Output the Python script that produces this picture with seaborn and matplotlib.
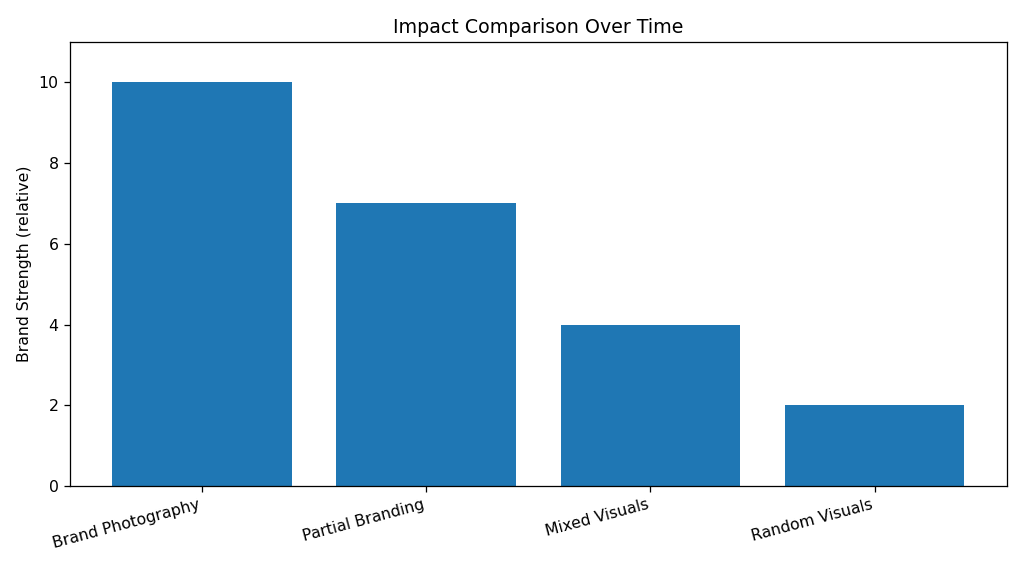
import matplotlib
matplotlib.use('Agg')
import matplotlib.pyplot as plt
import seaborn as sns
import pandas as pd

categories = ['Brand Photography', 'Partial Branding', 'Mixed Visuals', 'Random Visuals']
strength = [10, 7, 4, 2]

df = pd.DataFrame({'approach': categories, 'strength': strength})

plt.figure(figsize=(9, 5), dpi=113.8)
ax = sns.barplot(data=df, x='approach', y='strength', color='#1f77b4',
                 saturation=1, width=0.8)
ax.set(title='Impact Comparison Over Time', xlabel='', ylabel='Brand Strength (relative)')
ax.set_ylim(0, 11)
ax.set_xlim(-0.59, 3.59)
plt.xticks(rotation=15, ha='right')
plt.subplots_adjust(left=0.068, right=0.983, top=0.926, bottom=0.146)
plt.savefig('out.png', dpi=113.8)
